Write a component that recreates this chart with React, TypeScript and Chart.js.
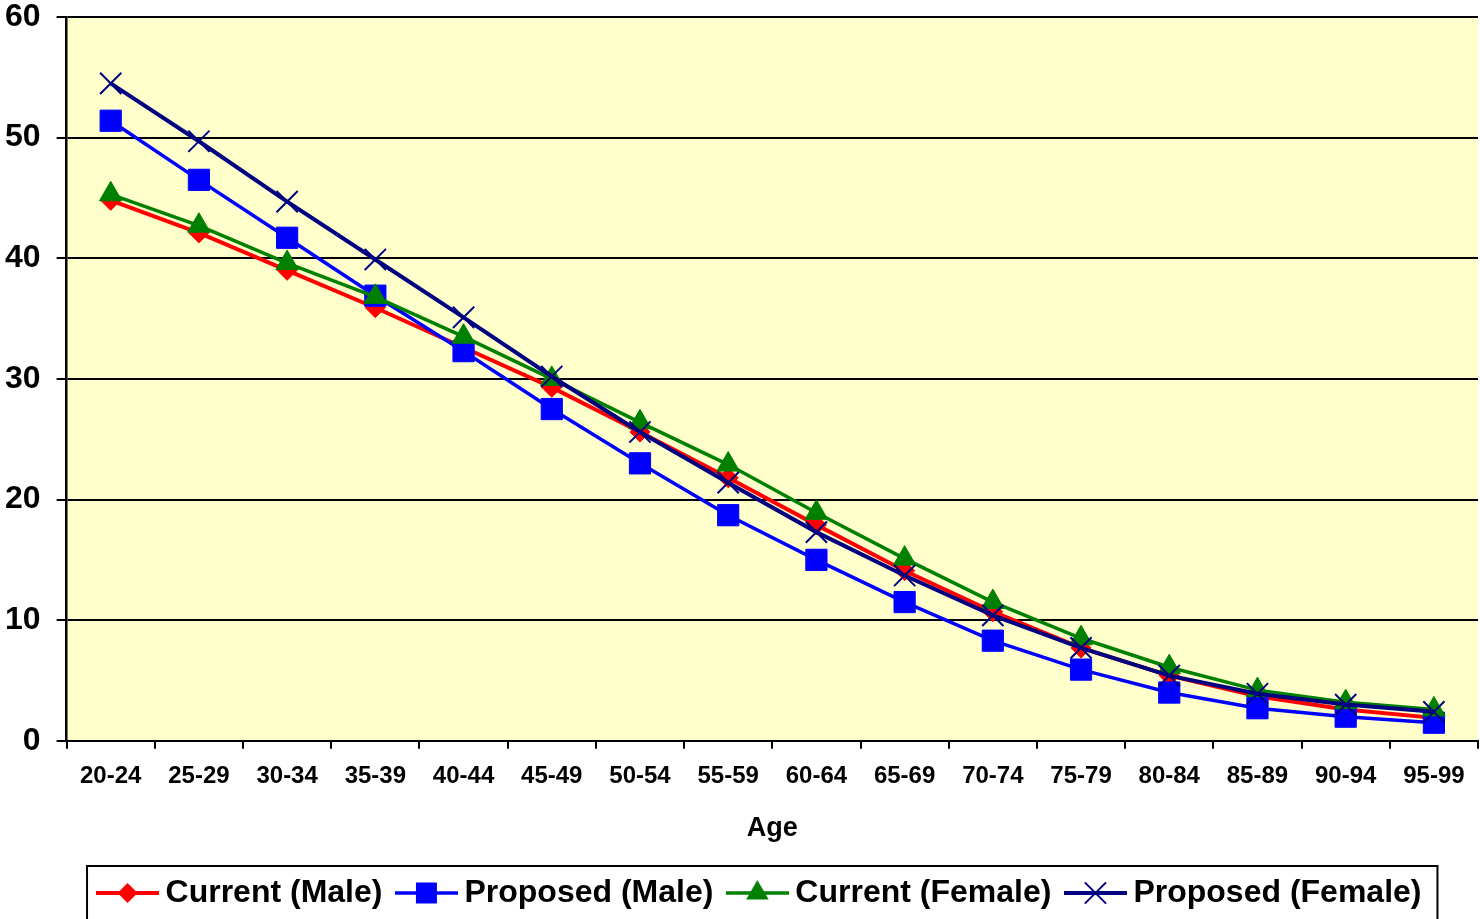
import React, { useEffect, useRef } from "react";
import { Chart, registerables } from "chart.js";

Chart.register(...registerables);

const ages = ["20-24", "25-29", "30-34", "35-39", "40-44", "45-49", "50-54", "55-59", "60-64", "65-69", "70-74", "75-79", "80-84", "85-89", "90-94", "95-99"];
const currentMale = [44.8, 42.1, 39.0, 35.9, 32.6, 29.3, 25.6, 21.8, 17.9, 14.1, 10.7, 7.7, 5.4, 3.7, 2.6, 1.9];
const proposedMale = [51.4, 46.5, 41.7, 36.9, 32.3, 27.5, 23.0, 18.7, 15.0, 11.5, 8.3, 5.9, 4.0, 2.7, 2.0, 1.5];
const currentFemale = [45.3, 42.7, 39.6, 36.8, 33.5, 30.0, 26.4, 22.9, 18.9, 15.1, 11.5, 8.5, 6.1, 4.2, 3.2, 2.6];
const proposedFemale = [54.5, 49.7, 44.7, 39.9, 35.1, 30.2, 25.6, 21.4, 17.3, 13.7, 10.4, 7.7, 5.4, 3.9, 3.0, 2.4];
const seriesNames = ["Current (Male)", "Proposed (Male)", "Current (Female)", "Proposed (Female)"];
const yTicks = [0, 10, 20, 30, 40, 50, 60];

const FONT = "'Liberation Sans', Arial, sans-serif";

function drawMarker(ctx: CanvasRenderingContext2D, kind: string, color: string, cx: number, cy: number) {
  ctx.fillStyle = color;
  ctx.strokeStyle = color;
  ctx.beginPath();
  if (kind === "diamond") {
    const r = 10;
    ctx.moveTo(cx, cy - r);
    ctx.lineTo(cx + r, cy);
    ctx.lineTo(cx, cy + r);
    ctx.lineTo(cx - r, cy);
    ctx.closePath();
    ctx.fill();
  } else if (kind === "square") {
    ctx.rect(cx - 10.5, cy - 10.5, 21, 21);
    ctx.fill();
  } else if (kind === "triangle") {
    const r = 13;
    ctx.moveTo(cx, cy - r);
    ctx.lineTo(cx + r * Math.sin(Math.PI / 3), cy + r / 2);
    ctx.lineTo(cx - r * Math.sin(Math.PI / 3), cy + r / 2);
    ctx.closePath();
    ctx.fill();
  } else {
    const d = 15 * Math.SQRT1_2;
    ctx.lineWidth = 2;
    ctx.moveTo(cx - d, cy - d);
    ctx.lineTo(cx + d, cy + d);
    ctx.moveTo(cx + d, cy - d);
    ctx.lineTo(cx - d, cy + d);
    ctx.stroke();
  }
}

function legendImage(kind: string, color: string, lw: number) {
  const c = document.createElement("canvas");
  c.width = 63;
  c.height = 34;
  const ctx = c.getContext("2d")!;
  ctx.strokeStyle = color;
  ctx.lineWidth = lw;
  ctx.beginPath();
  ctx.moveTo(0, 17);
  ctx.lineTo(63, 17);
  ctx.stroke();
  drawMarker(ctx, kind, color, 31.5, 17);
  return c;
}

const plotBg = {
  id: "plotBg",
  beforeDraw(chart: any) {
    const { ctx, chartArea } = chart;
    ctx.save();
    ctx.fillStyle = "#FFFFCC";
    ctx.fillRect(chartArea.left, chartArea.top, chartArea.right - chartArea.left, chartArea.bottom - chartArea.top);
    ctx.restore();
  },
};

const legendShift = {
  id: "legendShift",
  afterLayout(chart: any) {
    const lg = chart.legend;
    if (!lg) return;
    lg.left += 30;
    lg.right += 30;
  },
};

const legendBox = {
  id: "legendBox",
  afterDraw(chart: any) {
    const lg = chart.legend;
    if (!lg || !lg.legendHitBoxes || !lg.legendHitBoxes.length) return;
    const hb = lg.legendHitBoxes;
    const first = hb[0];
    const last = hb[hb.length - 1];
    const left = first.left - 18.5;
    const right = last.left + last.width + 16;
    const top = first.top - 11;
    const ctx = chart.ctx;
    ctx.save();
    ctx.strokeStyle = "#000";
    ctx.lineWidth = 2;
    ctx.strokeRect(left, top, right - left, 100);
    ctx.restore();
  },
};

export default function App() {
  const ref = useRef<HTMLCanvasElement | null>(null);

  useEffect(() => {
    if (!ref.current) return;
    const kinds = ["diamond", "square", "triangle", "cross"];
    const colors = ["#FF0000", "#0000FF", "#008000", "#000080"];
    const widths = [4, 3.5, 3.5, 4];
    const images = kinds.map((k, i) => legendImage(k, colors[i], widths[i]));
    const values = [currentMale, proposedMale, currentFemale, proposedFemale];
    const styles = ["rectRot", "rect", "triangle", "crossRot"];
    const radii = [10, 15, 13, 15];
    const orders = [4, 3, 2, 1];

    const chart = new Chart(ref.current, {
      type: "line",
      data: {
        labels: ages,
        datasets: values.map((v, i) => ({
          label: seriesNames[i],
          data: v,
          borderColor: colors[i],
          backgroundColor: colors[i],
          borderWidth: widths[i],
          pointStyle: styles[i] as any,
          pointRadius: radii[i],
          pointBorderWidth: i === 3 ? 2 : 1,
          pointBackgroundColor: colors[i],
          pointBorderColor: colors[i],
          tension: 0,
          order: orders[i],
          clip: false as any,
        })),
      },
      options: {
        responsive: false,
        animation: false,
        devicePixelRatio: 1,
        layout: { autoPadding: false, padding: { left: -11, right: 2, top: 0, bottom: 0 } },
        plugins: {
          tooltip: { enabled: false },
          legend: {
            position: "bottom",
            labels: {
              usePointStyle: true,
              pointStyleWidth: 44,
              padding: 22,
              color: "#000",
              font: { family: FONT, size: 32, weight: "bold" },
              generateLabels: (ch: any) =>
                ch.data.datasets.map((ds: any, i: number) => ({
                  text: ds.label,
                  fillStyle: colors[i],
                  strokeStyle: colors[i],
                  lineWidth: 0,
                  pointStyle: images[i],
                  hidden: false,
                  datasetIndex: i,
                  fontColor: "#000",
                })),
            },
          },
        },
        scales: {
          x: {
            offset: true,
            afterFit: (scale: any) => {
              scale.paddingLeft = 0;
              scale.paddingRight = 0;
            },
            grid: {
              offset: true,
              drawOnChartArea: false,
              drawTicks: true,
              tickLength: 8,
              color: "#000",
              lineWidth: 2,
            },
            border: { color: "#000", width: 2 },
            ticks: {
              color: "#000",
              padding: 13,
              maxRotation: 0,
              autoSkip: false,
              font: { family: FONT, size: 24, weight: "bold", lineHeight: 1.2 },
            },
            title: {
              display: true,
              text: "Age",
              color: "#000",
              font: { family: FONT, size: 27, weight: "bold", lineHeight: 1.2 },
              padding: { top: 9, bottom: 10 },
            },
          },
          y: {
            min: yTicks[0],
            max: yTicks[yTicks.length - 1],
            afterBuildTicks: (scale: any) => {
              scale.ticks = yTicks.map((v) => ({ value: v }));
            },
            afterFit: (scale: any) => {
              scale.paddingTop = 17;
              scale.paddingBottom = 17;
            },
            grid: {
              color: "#000",
              lineWidth: 2,
              drawTicks: true,
              tickLength: 10,
            },
            border: { color: "#000", width: 2.5 },
            ticks: {
              color: "#000",
              padding: 16,
              font: { family: FONT, size: 32, weight: "bold", lineHeight: 1.1 },
            },
          },
        },
      },
      plugins: [plotBg, legendShift, legendBox],
    });
    return () => chart.destroy();
  }, []);

  return (
    <div style={{ position: "fixed", left: 0, top: 0, width: 1480, height: 919, background: "#fff" }}>
      <canvas ref={ref} width={1480} height={919} style={{ display: "block" }} />
    </div>
  );
}
